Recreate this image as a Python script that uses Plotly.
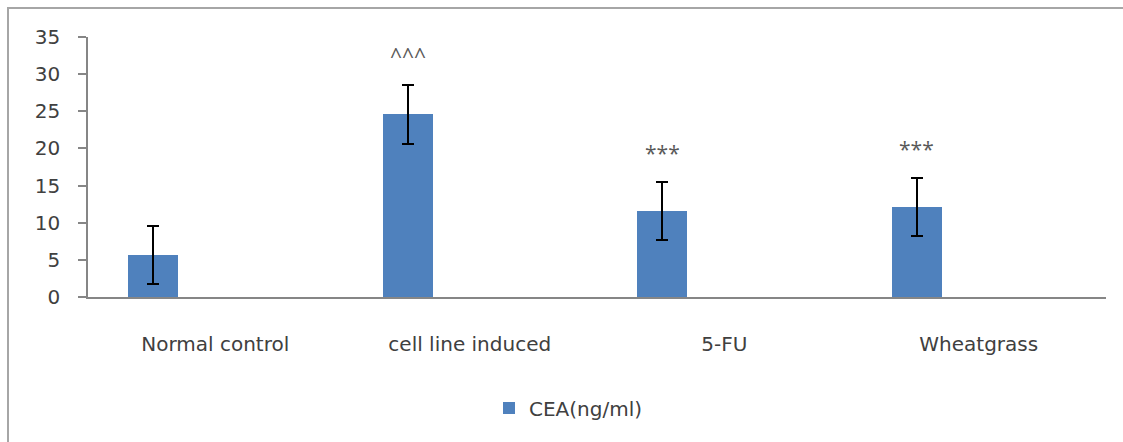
import plotly.graph_objects as go

categories = ["Normal control", "cell line induced", "5-FU", "Wheatgrass"]
cea_values = [5.6, 24.6, 11.6, 12.1]
cea_errors = [3.9, 3.95, 3.9, 3.95]
sig_labels = ["", "^^^", "***", "***"]
series_name = "CEA(ng/ml)"
y_ticks = [0, 5, 10, 15, 20, 25, 30, 35]

W, H = 1123, 442
ML, MR, MT, MB = 88, 17, 37, 145
pw = W - ML - MR
ph = H - MT - MB

fig = go.Figure()
fig.add_trace(go.Bar(
    x=categories, y=cea_values, name=series_name,
    marker=dict(color="#4F81BD", line=dict(width=0)),
    width=0.196, offset=-0.342,
    error_y=dict(type="data", array=cea_errors, visible=True,
                 color="#000000", thickness=2, width=6),
    showlegend=True,
))

annotations = []
for c, v, e, s in zip(categories, cea_values, cea_errors, sig_labels):
    if s:
        annotations.append(dict(
            x=c, y=v + e, xref="x", yref="y", text=s, showarrow=False,
            xshift=-62, yshift=29, yanchor="middle",
            font=dict(family="Open Sans", size=21, color="#595959")))

fig.update_layout(
    width=W, height=H,
    margin=dict(l=ML, r=MR, t=MT, b=MB, pad=0),
    paper_bgcolor="white", plot_bgcolor="white",
    font=dict(family="DejaVu Sans", size=20, color="#404040"),
    showlegend=True,
    legend=dict(orientation="h", xref="container", yref="container",
                x=489 / W, y=(H - 408) / H, xanchor="left", yanchor="middle",
                font=dict(family="DejaVu Sans", size=20, color="#404040"),
                bgcolor="rgba(0,0,0,0)"),
    annotations=annotations,
    bargap=0,
)
fig.update_xaxes(
    showgrid=False, showline=True, linecolor="#868686", linewidth=1.5,
    ticks="", ticklabelstandoff=28, zeroline=False,
    tickfont=dict(family="DejaVu Sans", size=20, color="#404040"),
)
fig.update_yaxes(
    range=[0, 35], tickvals=y_ticks, showgrid=False, showline=True,
    linecolor="#868686", linewidth=1.5, ticks="outside", ticklen=8,
    tickcolor="#868686", tickwidth=1.5, ticklabelstandoff=14, zeroline=False,
    tickfont=dict(family="DejaVu Sans", size=20, color="#404040"),
)
# outer chart border (only top and left are visible in the crop)
fig.add_shape(type="rect", xref="paper", yref="paper",
              x0=(8 - ML) / pw, x1=(W + 20 - ML) / pw,
              y0=-(H + 20 - MT - ph) / ph, y1=(MT + ph - 8) / ph,
              line=dict(color="#A6A6A6", width=2), fillcolor="rgba(0,0,0,0)",
              layer="below")

fig.write_html("out.html")
